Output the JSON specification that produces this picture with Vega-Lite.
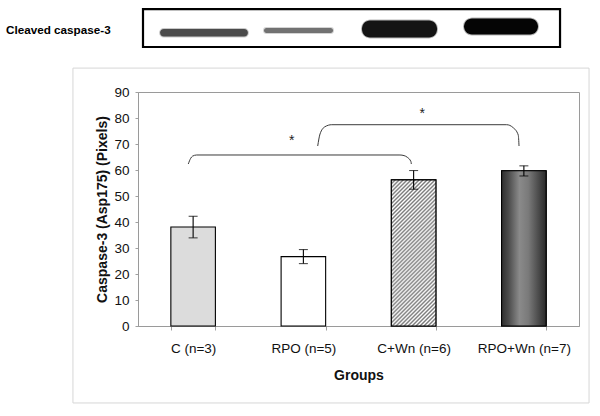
{
  "$schema": "https://vega.github.io/schema/vega-lite/v6.json",
  "width": 441,
  "height": 234,
  "autosize": {"type": "none"},
  "padding": {"left": 138, "top": 92, "right": 21, "bottom": 90},
  "background": "white",
  "config": {
    "font": "Liberation Sans",
    "view": {"stroke": "#9a9a9a", "strokeWidth": 1},
    "scale": {"bandPaddingInner": 0.596, "bandPaddingOuter": 0.298},
    "axis": {"labelColor": "#111", "titleColor": "#111", "labelFont": "Liberation Sans", "titleFont": "Liberation Sans"}
  },
  "datasets": {
    "bars": [
      {"group": "C (n=3)", "value": 38.1, "lo": 33.9, "hi": 42.2},
      {"group": "RPO (n=5)", "value": 26.7, "lo": 24.0, "hi": 29.4},
      {"group": "C+Wn (n=6)", "value": 56.2, "lo": 52.6, "hi": 59.8},
      {"group": "RPO+Wn (n=7)", "value": 59.7, "lo": 57.7, "hi": 61.6}
    ],
    "blot": [
      {"lane": "C", "x": 0.2, "x2": 0.997, "y": 111.3, "y2": 114.2, "density": 38.1},
      {"lane": "RPO", "x": 1.143, "x2": 1.769, "y": 112.7, "y2": 114.6, "density": 26.7},
      {"lane": "C+Wn", "x": 2.032, "x2": 2.712, "y": 111.0, "y2": 117.5, "density": 56.2},
      {"lane": "RPO+Wn", "x": 2.957, "x2": 3.628, "y": 112.1, "y2": 118.3, "density": 59.7}
    ],
    "brackets": [
      {"b": 1, "o": 1, "x": 0.456, "y": 62.31},
      {"b": 1, "o": 2, "x": 0.478, "y": 64.5},
      {"b": 1, "o": 3, "x": 0.494, "y": 65.31},
      {"b": 1, "o": 4, "x": 0.532, "y": 65.77},
      {"b": 1, "o": 5, "x": 2.376, "y": 65.77},
      {"b": 1, "o": 6, "x": 2.413, "y": 65.54},
      {"b": 1, "o": 7, "x": 2.443, "y": 64.88},
      {"b": 1, "o": 8, "x": 2.476, "y": 63.19},
      {"b": 1, "o": 9, "x": 2.479, "y": 62.31},
      {"b": 2, "o": 1, "x": 1.63, "y": 69.23},
      {"b": 2, "o": 2, "x": 1.651, "y": 73.85},
      {"b": 2, "o": 3, "x": 1.696, "y": 76.65},
      {"b": 2, "o": 4, "x": 1.757, "y": 77.42},
      {"b": 2, "o": 5, "x": 3.344, "y": 77.42},
      {"b": 2, "o": 6, "x": 3.401, "y": 76.35},
      {"b": 2, "o": 7, "x": 3.449, "y": 73.46},
      {"b": 2, "o": 8, "x": 3.456, "y": 69.23}
    ],
    "stars": [
      {"x": 1.394, "y": 71.2, "label": "*"},
      {"x": 2.579, "y": 81.7, "label": "*"}
    ],
    "outer": [{"x": -0.59, "x2": 4.091, "y": -29.6, "y2": 99.2}],
    "blotbox": [{"x": 0.0454, "x2": 3.828, "y": 107.3, "y2": 121.9}],
    "blotlabel": [{"x": -1.197, "y": 113.8, "label": "Cleaved caspase-3"}]
  },
  "resolve": {"scale": {"x": "independent"}, "axis": {"y": "independent"}},
  "layer": [
    {
      "data": {"name": "outer"},
      "mark": {"type": "rect", "fillOpacity": 0, "stroke": "#d6d6d6", "strokeWidth": 1},
      "encoding": {
        "x": {"field": "x", "type": "quantitative", "scale": {"domain": [0, 4], "nice": false, "zero": false}, "axis": null},
        "x2": {"field": "x2"},
        "y": {"field": "y", "type": "quantitative", "scale": {"domain": [0, 90], "nice": false, "zero": false}, "axis": null},
        "y2": {"field": "y2"}
      }
    },
    {
      "data": {"name": "blotlabel"},
      "mark": {"type": "text", "align": "left", "baseline": "middle", "fontSize": 11.7, "fontWeight": "bold", "font": "Liberation Sans", "color": "#000"},
      "encoding": {
        "x": {"field": "x", "type": "quantitative", "scale": {"domain": [0, 4], "nice": false, "zero": false}, "axis": null},
        "y": {"field": "y", "type": "quantitative", "scale": {"domain": [0, 90], "nice": false, "zero": false}, "axis": null},
        "text": {"field": "label"}
      }
    },
    {
      "data": {"name": "blot"},
      "mark": {"type": "rect", "cornerRadius": 8, "strokeWidth": 2, "strokeOpacity": 0.3},
      "encoding": {
        "x": {"field": "x", "type": "quantitative", "scale": {"domain": [0, 4], "nice": false, "zero": false}, "axis": null},
        "x2": {"field": "x2"},
        "y": {"field": "y", "type": "quantitative", "scale": {"domain": [0, 90], "nice": false, "zero": false}, "axis": null},
        "y2": {"field": "y2"},
        "color": {"field": "density", "type": "quantitative", "scale": {"domain": [26.7, 59.7], "range": ["#727272", "#050505"]}, "legend": null},
        "stroke": {"field": "density", "type": "quantitative", "scale": {"domain": [26.7, 59.7], "range": ["#727272", "#050505"]}, "legend": null}
      }
    },
    {
      "data": {"name": "blotbox"},
      "mark": {"type": "rect", "fillOpacity": 0, "stroke": "#000", "strokeWidth": 2.2},
      "encoding": {
        "x": {"field": "x", "type": "quantitative", "scale": {"domain": [0, 4], "nice": false, "zero": false}, "axis": null},
        "x2": {"field": "x2"},
        "y": {"field": "y", "type": "quantitative", "scale": {"domain": [0, 90], "nice": false, "zero": false}, "axis": null},
        "y2": {"field": "y2"}
      }
    },
    {
      "data": {"name": "bars"},
      "mark": {"type": "bar", "stroke": "#000", "strokeWidth": 1.1},
      "encoding": {
        "x": {
          "field": "group", "type": "nominal",
          "scale": {"domain": ["C (n=3)", "RPO (n=5)", "C+Wn (n=6)", "RPO+Wn (n=7)"]},
          "axis": {"title": "Groups", "labelAngle": 0, "labelFontSize": 13.5, "labelPadding": 11, "tickBand": "extent", "tickSize": 4, "tickColor": "#a0a0a0", "domainColor": "#9a9a9a", "titleFontSize": 14, "titleFontWeight": "bold", "titlePadding": 14}
        },
        "y": {
          "field": "value", "type": "quantitative",
          "scale": {"domain": [0, 90], "nice": false, "zero": false},
          "axis": {"title": "Caspase-3 (Asp175) (Pixels)", "values": [0, 10, 20, 30, 40, 50, 60, 70, 80, 90], "labelFontSize": 13.5, "labelPadding": 6, "tickSize": 3, "tickColor": "#a0a0a0", "domainColor": "#9a9a9a", "grid": false, "titleFontSize": 14, "titleFontWeight": "bold", "titlePadding": 4}
        },
        "color": {
          "field": "group", "type": "nominal",
          "scale": {"domain": ["C (n=3)", "RPO (n=5)", "C+Wn (n=6)", "RPO+Wn (n=7)"], "range": ["#dcdcdc", "#ffffff", "#c0c0c0", "#555555"]},
          "legend": null
        }
      }
    },
    {
      "data": {"name": "bars"},
      "transform": [{"filter": "datum.group === 'C+Wn (n=6)'"}],
      "mark": {
        "type": "bar", "stroke": "#000", "strokeWidth": 1.1,
        "fill": {
          "gradient": "linear", "x1": 0, "y1": 0, "x2": 0.3639, "y2": 1.1939,
          "stops": [
            {"offset": 0, "color": "#7a7a7a"}, {"offset": 0.0104, "color": "#ffffff"}, {"offset": 0.0208, "color": "#7a7a7a"}, {"offset": 0.0313, "color": "#ffffff"},
            {"offset": 0.0417, "color": "#7a7a7a"}, {"offset": 0.0521, "color": "#ffffff"}, {"offset": 0.0625, "color": "#7a7a7a"}, {"offset": 0.0729, "color": "#ffffff"},
            {"offset": 0.0833, "color": "#7a7a7a"}, {"offset": 0.0938, "color": "#ffffff"}, {"offset": 0.1042, "color": "#7a7a7a"}, {"offset": 0.1146, "color": "#ffffff"},
            {"offset": 0.125, "color": "#7a7a7a"}, {"offset": 0.1354, "color": "#ffffff"}, {"offset": 0.1458, "color": "#7a7a7a"}, {"offset": 0.1563, "color": "#ffffff"},
            {"offset": 0.1667, "color": "#7a7a7a"}, {"offset": 0.1771, "color": "#ffffff"}, {"offset": 0.1875, "color": "#7a7a7a"}, {"offset": 0.1979, "color": "#ffffff"},
            {"offset": 0.2083, "color": "#7a7a7a"}, {"offset": 0.2188, "color": "#ffffff"}, {"offset": 0.2292, "color": "#7a7a7a"}, {"offset": 0.2396, "color": "#ffffff"},
            {"offset": 0.25, "color": "#7a7a7a"}, {"offset": 0.2604, "color": "#ffffff"}, {"offset": 0.2708, "color": "#7a7a7a"}, {"offset": 0.2813, "color": "#ffffff"},
            {"offset": 0.2917, "color": "#7a7a7a"}, {"offset": 0.3021, "color": "#ffffff"}, {"offset": 0.3125, "color": "#7a7a7a"}, {"offset": 0.3229, "color": "#ffffff"},
            {"offset": 0.3333, "color": "#7a7a7a"}, {"offset": 0.3438, "color": "#ffffff"}, {"offset": 0.3542, "color": "#7a7a7a"}, {"offset": 0.3646, "color": "#ffffff"},
            {"offset": 0.375, "color": "#7a7a7a"}, {"offset": 0.3854, "color": "#ffffff"}, {"offset": 0.3958, "color": "#7a7a7a"}, {"offset": 0.4063, "color": "#ffffff"},
            {"offset": 0.4167, "color": "#7a7a7a"}, {"offset": 0.4271, "color": "#ffffff"}, {"offset": 0.4375, "color": "#7a7a7a"}, {"offset": 0.4479, "color": "#ffffff"},
            {"offset": 0.4583, "color": "#7a7a7a"}, {"offset": 0.4688, "color": "#ffffff"}, {"offset": 0.4792, "color": "#7a7a7a"}, {"offset": 0.4896, "color": "#ffffff"},
            {"offset": 0.5, "color": "#7a7a7a"}, {"offset": 0.5104, "color": "#ffffff"}, {"offset": 0.5208, "color": "#7a7a7a"}, {"offset": 0.5313, "color": "#ffffff"},
            {"offset": 0.5417, "color": "#7a7a7a"}, {"offset": 0.5521, "color": "#ffffff"}, {"offset": 0.5625, "color": "#7a7a7a"}, {"offset": 0.5729, "color": "#ffffff"},
            {"offset": 0.5833, "color": "#7a7a7a"}, {"offset": 0.5938, "color": "#ffffff"}, {"offset": 0.6042, "color": "#7a7a7a"}, {"offset": 0.6146, "color": "#ffffff"},
            {"offset": 0.625, "color": "#7a7a7a"}, {"offset": 0.6354, "color": "#ffffff"}, {"offset": 0.6458, "color": "#7a7a7a"}, {"offset": 0.6563, "color": "#ffffff"},
            {"offset": 0.6667, "color": "#7a7a7a"}, {"offset": 0.6771, "color": "#ffffff"}, {"offset": 0.6875, "color": "#7a7a7a"}, {"offset": 0.6979, "color": "#ffffff"},
            {"offset": 0.7083, "color": "#7a7a7a"}, {"offset": 0.7188, "color": "#ffffff"}, {"offset": 0.7292, "color": "#7a7a7a"}, {"offset": 0.7396, "color": "#ffffff"},
            {"offset": 0.75, "color": "#7a7a7a"}, {"offset": 0.7604, "color": "#ffffff"}, {"offset": 0.7708, "color": "#7a7a7a"}, {"offset": 0.7813, "color": "#ffffff"},
            {"offset": 0.7917, "color": "#7a7a7a"}, {"offset": 0.8021, "color": "#ffffff"}, {"offset": 0.8125, "color": "#7a7a7a"}, {"offset": 0.8229, "color": "#ffffff"},
            {"offset": 0.8333, "color": "#7a7a7a"}, {"offset": 0.8438, "color": "#ffffff"}, {"offset": 0.8542, "color": "#7a7a7a"}, {"offset": 0.8646, "color": "#ffffff"},
            {"offset": 0.875, "color": "#7a7a7a"}, {"offset": 0.8854, "color": "#ffffff"}, {"offset": 0.8958, "color": "#7a7a7a"}, {"offset": 0.9063, "color": "#ffffff"},
            {"offset": 0.9167, "color": "#7a7a7a"}, {"offset": 0.9271, "color": "#ffffff"}, {"offset": 0.9375, "color": "#7a7a7a"}, {"offset": 0.9479, "color": "#ffffff"},
            {"offset": 0.9583, "color": "#7a7a7a"}, {"offset": 0.9688, "color": "#ffffff"}, {"offset": 0.9792, "color": "#7a7a7a"}, {"offset": 0.9896, "color": "#ffffff"},
            {"offset": 1, "color": "#7a7a7a"}
          ]
        }
      },
      "encoding": {
        "x": {"field": "group", "type": "nominal", "scale": {"domain": ["C (n=3)", "RPO (n=5)", "C+Wn (n=6)", "RPO+Wn (n=7)"]}, "axis": null},
        "y": {"field": "value", "type": "quantitative", "scale": {"domain": [0, 90], "nice": false, "zero": false}, "axis": null}
      }
    },
    {
      "data": {"name": "bars"},
      "transform": [{"filter": "datum.group === 'RPO+Wn (n=7)'"}],
      "mark": {
        "type": "bar", "stroke": "#000", "strokeWidth": 1.1,
        "fill": {
          "gradient": "linear", "x1": 0, "y1": 0, "x2": 1, "y2": 0,
          "stops": [
            {"offset": 0, "color": "#2e2e2e"},
            {"offset": 0.15, "color": "#4a4a4a"},
            {"offset": 0.4, "color": "#8a8a8a"},
            {"offset": 0.6, "color": "#7a7a7a"},
            {"offset": 0.85, "color": "#474747"},
            {"offset": 1, "color": "#2a2a2a"}
          ]
        }
      },
      "encoding": {
        "x": {"field": "group", "type": "nominal", "scale": {"domain": ["C (n=3)", "RPO (n=5)", "C+Wn (n=6)", "RPO+Wn (n=7)"]}, "axis": null},
        "y": {"field": "value", "type": "quantitative", "scale": {"domain": [0, 90], "nice": false, "zero": false}, "axis": null}
      }
    },
    {
      "data": {"name": "bars"},
      "mark": {"type": "rule", "color": "#000", "strokeWidth": 1.1},
      "encoding": {
        "x": {"field": "group", "type": "nominal", "scale": {"domain": ["C (n=3)", "RPO (n=5)", "C+Wn (n=6)", "RPO+Wn (n=7)"]}, "axis": null},
        "y": {"field": "lo", "type": "quantitative", "scale": {"domain": [0, 90], "nice": false, "zero": false}, "axis": null},
        "y2": {"field": "hi"}
      }
    },
    {
      "data": {"name": "bars"},
      "mark": {"type": "tick", "color": "#000", "size": 9, "thickness": 1.1},
      "encoding": {
        "x": {"field": "group", "type": "nominal", "scale": {"domain": ["C (n=3)", "RPO (n=5)", "C+Wn (n=6)", "RPO+Wn (n=7)"]}, "axis": null},
        "y": {"field": "hi", "type": "quantitative", "scale": {"domain": [0, 90], "nice": false, "zero": false}, "axis": null}
      }
    },
    {
      "data": {"name": "bars"},
      "mark": {"type": "tick", "color": "#000", "size": 9, "thickness": 1.1},
      "encoding": {
        "x": {"field": "group", "type": "nominal", "scale": {"domain": ["C (n=3)", "RPO (n=5)", "C+Wn (n=6)", "RPO+Wn (n=7)"]}, "axis": null},
        "y": {"field": "lo", "type": "quantitative", "scale": {"domain": [0, 90], "nice": false, "zero": false}, "axis": null}
      }
    },
    {
      "data": {"name": "brackets"},
      "mark": {"type": "line", "interpolate": "monotone", "color": "#3a3a3a", "strokeWidth": 1},
      "encoding": {
        "x": {"field": "x", "type": "quantitative", "scale": {"domain": [0, 4], "nice": false, "zero": false}, "axis": null},
        "y": {"field": "y", "type": "quantitative", "scale": {"domain": [0, 90], "nice": false, "zero": false}, "axis": null},
        "detail": {"field": "b", "type": "nominal"},
        "order": {"field": "o", "type": "quantitative"}
      }
    },
    {
      "data": {"name": "stars"},
      "mark": {"type": "text", "fontSize": 14, "baseline": "middle", "align": "center", "color": "#222", "font": "Liberation Sans"},
      "encoding": {
        "x": {"field": "x", "type": "quantitative", "scale": {"domain": [0, 4], "nice": false, "zero": false}, "axis": null},
        "y": {"field": "y", "type": "quantitative", "scale": {"domain": [0, 90], "nice": false, "zero": false}, "axis": null},
        "text": {"field": "label"}
      }
    }
  ]
}
